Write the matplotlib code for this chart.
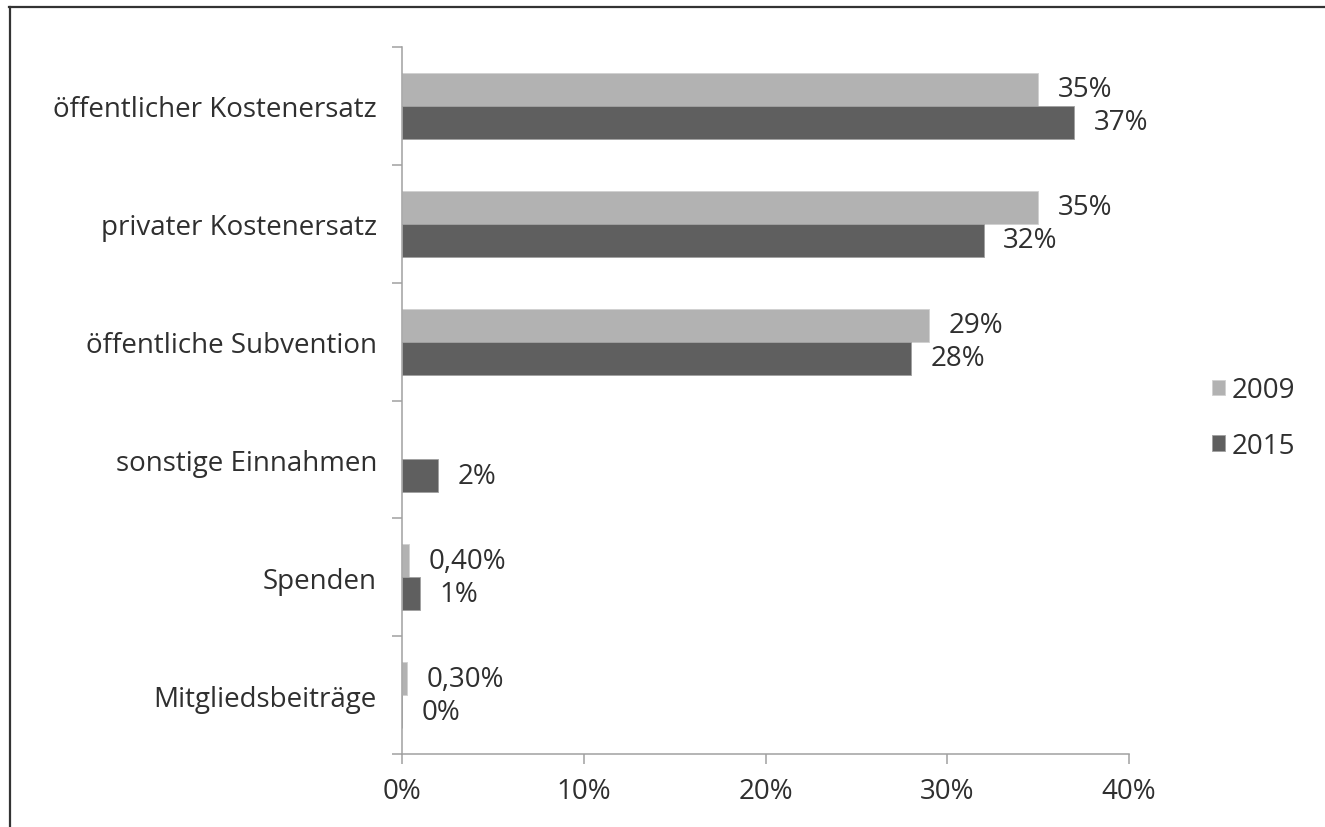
import matplotlib.pyplot as plt
from matplotlib.lines import Line2D
from matplotlib.ticker import FixedLocator, PercentFormatter
import numpy as np

CATEGORIES = [
    "öffentlicher Kostenersatz",
    "privater Kostenersatz",
    "öffentliche Subvention",
    "sonstige Einnahmen",
    "Spenden",
    "Mitgliedsbeiträge",
]
VALUES_2009 = [35, 35, 29, np.nan, 0.4, 0.3]
VALUES_2015 = [37, 32, 28, 2, 1, 0]
LABELS_2009 = ["35%", "35%", "29%", "", "0,40%", "0,30%"]
LABELS_2015 = ["37%", "32%", "28%", "2%", "1%", "0%"]
X_TICKS = [0, 10, 20, 30, 40]

COLOR_2009 = "#b2b2b2"
COLOR_2015 = "#5f5f5f"
TEXT_COLOR = "#2f2f2f"
AXIS_COLOR = "#a0a0a0"
FONT_SIZE = 20

plt.rcParams["font.family"] = ["Open Sans", "DejaVu Sans"]


def main() -> None:
    fig = plt.figure(figsize=(13.25, 8.28), dpi=100)
    ax = fig.add_axes([402 / 1325, 1 - 755 / 828, 727 / 1325, 707 / 828])

    y = np.arange(len(CATEGORIES))
    bar_h = 0.28

    bars_09 = ax.barh(y - bar_h / 2, VALUES_2009, height=bar_h, color=COLOR_2009,
                      edgecolor="#d0d0d0", linewidth=0.6, label="2009")
    bars_15 = ax.barh(y + bar_h / 2, VALUES_2015, height=bar_h, color=COLOR_2015,
                      edgecolor="#a0a0a0", linewidth=0.6, label="2015")

    for bars, labels in ((bars_09, LABELS_2009), (bars_15, LABELS_2015)):
        ax.bar_label(bars, labels=labels, padding=14, fontsize=FONT_SIZE, color=TEXT_COLOR)

    ax.set_xlim(0, 40)
    ax.set_ylim(len(CATEGORIES) - 0.5, -0.5)

    ax.set_xticks(X_TICKS)
    ax.xaxis.set_major_formatter(PercentFormatter(decimals=0))
    ax.set_yticks(y)
    ax.set_yticklabels(CATEGORIES)
    ax.yaxis.set_minor_locator(FixedLocator(np.arange(len(CATEGORIES) + 1) - 0.5))

    ax.tick_params(axis="y", which="major", length=0, pad=18,
                   labelsize=FONT_SIZE, labelcolor=TEXT_COLOR)
    ax.tick_params(axis="y", which="minor", length=7.5, width=1.1, color=AXIS_COLOR)
    ax.tick_params(axis="x", which="major", length=7.5, width=1.1, color=AXIS_COLOR,
                   pad=9, labelsize=FONT_SIZE, labelcolor=TEXT_COLOR)

    for side in ("top", "right"):
        ax.spines[side].set_visible(False)
    for side in ("left", "bottom"):
        ax.spines[side].set_color(AXIS_COLOR)
        ax.spines[side].set_linewidth(1.1)

    handles, labels = ax.get_legend_handles_labels()
    fig.legend(handles, labels, loc="center left", bbox_to_anchor=(1187 / 1325, 1 - 419 / 828),
               frameon=False, fontsize=FONT_SIZE, labelcolor=TEXT_COLOR,
               handlelength=0.47, handleheight=0.47, handletextpad=0.25, labelspacing=1.0)

    # frame lines visible on the top and left edges of the original image
    fig.add_artist(Line2D([9 / 1325, 1], [1 - 7.5 / 828] * 2, transform=fig.transFigure,
                          color="#333333", linewidth=1.6))
    fig.add_artist(Line2D([10.5 / 1325] * 2, [0, 1 - 7.5 / 828], transform=fig.transFigure,
                          color="#333333", linewidth=1.6))

    fig.savefig("out.png", dpi=100)
    plt.close(fig)


if __name__ == "__main__":
    main()
